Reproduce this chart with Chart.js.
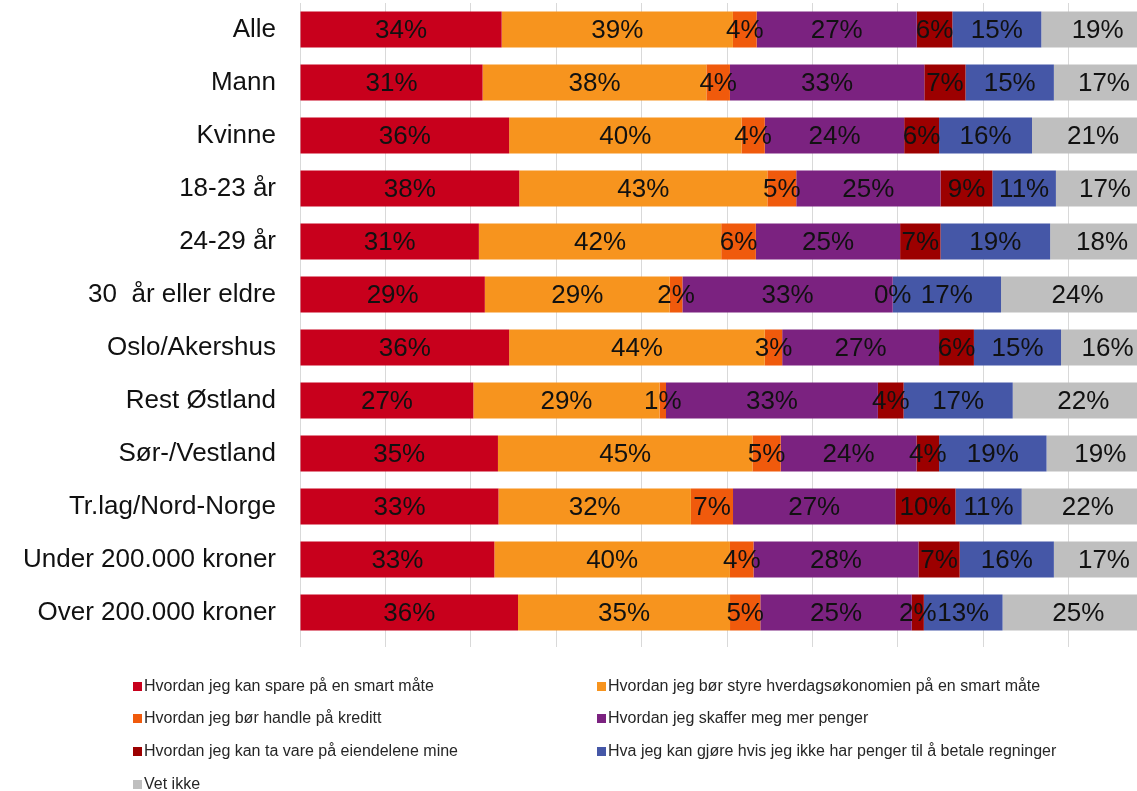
<!DOCTYPE html>
<html>
<head>
<meta charset="utf-8">
<script src="https://cdn.jsdelivr.net/npm/chart.js@4/dist/chart.umd.min.js"></script>
<style>
html,body{margin:0;padding:0;background:#fff;overflow:hidden;width:1137px;height:791px;}
#c{position:absolute;left:0;top:0;}
#legend{position:absolute;left:0;top:0;width:1137px;height:791px;pointer-events:none;
font-family:"Liberation Sans",Arial,sans-serif;font-size:16px;color:#262626;}
.item{position:absolute;white-space:nowrap;line-height:18px;}
.box{display:inline-block;width:9px;height:9px;margin-right:2px;vertical-align:0px;}
</style>
</head>
<body>
<canvas id="c" width="1154" height="650"></canvas>
<div id="legend"></div>
<script>
const categories=["Alle","Mann","Kvinne","18-23 år","24-29 år","30  år eller eldre","Oslo/Akershus",
"Rest Østland","Sør-/Vestland","Tr.lag/Nord-Norge","Under 200.000 kroner","Over 200.000 kroner"];

const spare=[34,31,36,38,31,29,36,27,35,33,33,36];
const styre=[39,38,40,43,42,29,44,29,45,32,40,35];
const kreditt=[4,4,4,5,6,2,3,1,5,7,4,5];
const skaffe=[27,33,24,25,25,33,27,33,24,27,28,25];
const eiendeler=[6,7,6,9,7,0,6,4,4,10,7,2];
const regninger=[15,15,16,11,19,17,15,17,19,11,16,13];
const vetIkke=[19,17,21,17,18,24,16,22,19,22,17,25];

const seriesNames=["Hvordan jeg kan spare på en smart måte",
"Hvordan jeg bør styre hverdagsøkonomien på en smart måte",
"Hvordan jeg bør handle på kreditt",
"Hvordan jeg skaffer meg mer penger",
"Hvordan jeg kan ta vare på eiendelene mine",
"Hva jeg kan gjøre hvis jeg ikke har penger til å betale regninger",
"Vet ikke"];
const seriesValues=[spare,styre,kreditt,skaffe,eiendeler,regninger,vetIkke];
const colors=["#C8001C","#F7941E","#F05A0C","#7B2280","#9C0000","#4557A7","#BFBFBF"];

// 100% stacked: share of each row total
const totals=categories.map((c,i)=>seriesValues.reduce((s,v)=>s+v[i],0));

const datasets=seriesValues.map((vals,k)=>({
label:seriesNames[k],
raw:vals,
data:vals.map((v,i)=>v/totals[i]*100),
backgroundColor:colors[k],
borderWidth:0,
barPercentage:0.68,
categoryPercentage:1
}));

const valueLabels={
id:"valueLabels",
afterDatasetsDraw(chart){
const ctx=chart.ctx;
ctx.save();
ctx.font='26px "Liberation Sans", Arial, sans-serif';
ctx.fillStyle="#111";
ctx.textAlign="center";
ctx.textBaseline="middle";
chart.data.datasets.forEach((ds,k)=>{
chart.getDatasetMeta(k).data.forEach((bar,i)=>{
const x=(bar.x+bar.base)/2;
ctx.fillText(ds.raw[i]+"%",x,bar.y+1);
});
});
ctx.restore();
}
};

new Chart(document.getElementById("c"),{
type:"bar",
data:{labels:categories,datasets:datasets},
options:{
indexAxis:"y",
responsive:false,
animation:false,
layout:{padding:{top:3,bottom:3,left:0,right:0}},
plugins:{legend:{display:false},tooltip:{enabled:false}},
scales:{
x:{
stacked:true,min:0,max:100,
ticks:{display:false,stepSize:10},
grid:{color:"#D9D9D9",lineWidth:1,tickLength:8,drawTicks:true},
border:{display:false}
},
y:{
stacked:true,
ticks:{color:"#111",padding:24,font:{size:26,family:'"Liberation Sans", Arial, sans-serif'}},
grid:{display:false,drawTicks:false},
border:{display:false},
afterFit(axis){axis.width=300;axis.paddingTop=0;axis.paddingBottom=0;}
}
}
},
plugins:[valueLabels]
});

// legend in two columns under the chart
const legendPos=[[133,677],[597,677],[133,709],[597,709],[133,742],[597,742],[133,775]];
const legend=document.getElementById("legend");
seriesNames.forEach((name,k)=>{
const d=document.createElement("div");
d.className="item";
d.style.left=legendPos[k][0]+"px";
d.style.top=legendPos[k][1]+"px";
const b=document.createElement("span");
b.className="box";
b.style.background=colors[k];
d.appendChild(b);
d.appendChild(document.createTextNode(name));
legend.appendChild(d);
});
</script>
</body>
</html>
